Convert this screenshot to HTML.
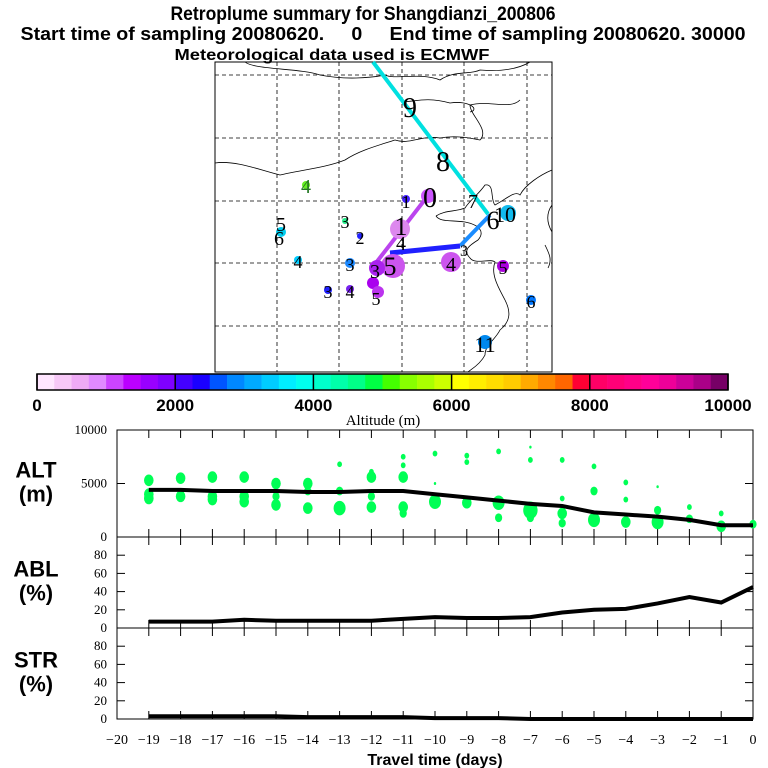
<!DOCTYPE html>
<html><head><meta charset="utf-8"><style>
body{margin:0;background:#fff}
svg{display:block}
.t{font-family:"Liberation Sans",sans-serif;font-weight:bold}
.s{font-family:"Liberation Serif",serif}
</style></head><body>
<svg id="chart" width="768" height="768" viewBox="0 0 768 768">
<rect width="768" height="768" fill="#fff"/>
<text class="t" x="363" y="20" font-size="19" text-anchor="middle" textLength="385" lengthAdjust="spacingAndGlyphs">Retroplume summary for Shangdianzi_200806</text>
<text class="t" x="383" y="40" font-size="18" text-anchor="middle" textLength="725" lengthAdjust="spacingAndGlyphs" xml:space="preserve">Start time of sampling 20080620.     0     End time of sampling 20080620. 30000</text>
<g id="map">
<rect x="215" y="62" width="337" height="310" fill="#fff" stroke="#000"/>
<g id="coast" fill="none" stroke="#000" stroke-width="0.8">
<path d="M245,62 C255,70 300,68 320,75 C345,80 370,78 385,75 C395,80 420,72 440,80 C455,70 470,75 480,70 C505,72 520,68 530,62"/>
<path d="M215,163 C235,160 260,170 280,175 C300,170 325,168 345,160 C360,150 380,145 395,140 C410,145 420,135 440,138 C455,135 470,138 480,140 C490,130 470,115 470,105 C490,100 510,110 520,100"/>
<path d="M400,100 C410,105 420,95 450,103 C470,100 480,110 470,112"/>
<path d="M436,216 C445,210 455,212 465,208 C470,200 478,195 485,185 C495,183 490,200 495,205 C505,200 515,190 520,195 C525,185 540,175 552,170"/>
<path d="M436,216 C440,222 450,220 465,222 C480,225 485,232 478,240 C470,245 462,250 470,258 C475,265 490,258 495,262 C490,275 500,290 505,300 C510,310 512,320 500,330 C495,340 485,345 485,355 C480,365 470,370 468,372"/>
<path d="M552,205 C545,215 548,225 552,232 M545,245 C550,255 552,260 548,268"/>
</g>
<g id="grid" fill="none" stroke="#000" stroke-width="0.8" stroke-dasharray="4,3"></g>
<g id="tracks">
<line x1="373" y1="62" x2="488" y2="214" stroke="#00e0e0" stroke-width="4"/>
<line x1="490" y1="215" x2="460" y2="246" stroke="#1a8cff" stroke-width="4"/>
<line x1="460" y1="246" x2="390" y2="253" stroke="#2020ff" stroke-width="5"/>
<line x1="430" y1="193" x2="372" y2="268" stroke="#bb44ee" stroke-width="4"/>
</g>
<g id="blobs">
<circle cx="400" cy="229" r="10" fill="#dd88ee"/>
<circle cx="393" cy="266" r="12" fill="#cc55ee"/>
<circle cx="377" cy="268" r="8" fill="#aa22ee"/>
<circle cx="373" cy="283" r="6" fill="#aa00ee"/>
<circle cx="378" cy="292" r="6" fill="#bb33ee"/>
<circle cx="451" cy="262" r="10" fill="#cc55ee"/>
<circle cx="503" cy="266" r="6" fill="#aa00dd"/>
<circle cx="531" cy="300" r="5" fill="#0077ff"/>
<circle cx="485" cy="342" r="7" fill="#0088ee"/>
<circle cx="508" cy="213" r="8" fill="#11bbee"/>
<circle cx="428" cy="196" r="7" fill="#cc55ff"/>
<circle cx="406" cy="199" r="4" fill="#4422ff"/>
<circle cx="350" cy="263" r="5" fill="#1a88ff"/>
<circle cx="298" cy="260" r="4" fill="#00ccff"/>
<circle cx="360" cy="236" r="3" fill="#2222ff"/>
<circle cx="345" cy="221" r="3" fill="#22ee88"/>
<circle cx="328" cy="290" r="4" fill="#2222ff"/>
<circle cx="350" cy="289" r="4" fill="#7722ee"/>
<circle cx="281" cy="232" r="5" fill="#00ccee"/>
<circle cx="306" cy="185" r="4" fill="#66ee22"/>
</g>
<g class="s" fill="#000" text-anchor="middle">
<text x="410" y="117" font-size="28">9</text>
<text x="443" y="171" font-size="28">8</text>
<text x="473" y="208" font-size="20">7</text>
<text x="430" y="207" font-size="28">0</text>
<text x="406" y="208" font-size="18">1</text>
<text x="306" y="193" font-size="20" fill="#227722">4</text>
<text x="281" y="231" font-size="20">5</text>
<text x="279" y="245" font-size="20">6</text>
<text x="345" y="228" font-size="18">3</text>
<text x="360" y="244" font-size="18">2</text>
<text x="298" y="268" font-size="18">4</text>
<text x="350" y="271" font-size="18">3</text>
<text x="328" y="298" font-size="18">3</text>
<text x="350" y="298" font-size="18">4</text>
<text x="401" y="235" font-size="26">1</text>
<text x="401" y="250" font-size="20">4</text>
<text x="390" y="275" font-size="26">5</text>
<text x="375" y="278" font-size="20">3</text>
<text x="376" y="305" font-size="18">5</text>
<text x="451" y="271" font-size="20">4</text>
<text x="503" y="274" font-size="18">5</text>
<text x="531" y="308" font-size="18">6</text>
<text x="485" y="352" font-size="22">11</text>
<text x="493" y="229" font-size="26">6</text>
<text x="505" y="222" font-size="22">10</text>
<text x="464" y="256" font-size="16">3</text>
</g>
</g>
<text class="t" x="332" y="60" font-size="16" text-anchor="middle" textLength="315" lengthAdjust="spacingAndGlyphs">Meteorological data used is ECMWF</text>
<g id="cbar"></g>
<text class="s" x="383" y="425" font-size="15" text-anchor="middle">Altitude (m)</text>
<g id="panels"></g>
<text class="t" x="435" y="765" font-size="16" text-anchor="middle">Travel time (days)</text>
</svg>
<script>
const NS="http://www.w3.org/2000/svg";
const cbColors=["#ffe6ff","#f7c8f7","#eeaaf5","#e08aff","#cc44ff","#bb00ff","#9900ff","#7f00ff","#4400ff","#1a00ff","#0055ff","#0088ff","#00aaff","#00ccff","#00eeff","#00ffee","#00ffcc","#00ffaa","#00ff88","#00ff44","#44ff00","#88ff00","#aaff00","#ccff00","#ffff00","#ffee00","#ffdd00","#ffcc00","#ffaa00","#ff8800","#ff6600","#ff0033","#ff0066","#ff0077","#ff0088","#ff0099","#ee0099","#cc0099","#aa0088","#770066"];
const cbTicks=[0,2000,4000,6000,8000,10000];
const days=[-19,-18,-17,-16,-15,-14,-13,-12,-11,-10,-9,-8,-7,-6,-5,-4,-3,-2,-1,0];
const altMean=[4400,4400,4300,4300,4300,4200,4200,4300,4300,4000,3700,3400,3100,2900,2300,2100,1900,1600,1100,1100];
const ablPct=[7,7,7,9,8,8,8,8,10,12,11,11,12,17,20,21,27,34,28,45];
const strPct=[3,3,3,3,3,2,2,2,2,1,1,1,0,0,0,0,0,0,0,0];
const altPts=[[-19,5300,4],[-19,4000,4],[-19,3600,4],[-18,5500,4],[-18,3800,4],[-17,5600,4],[-17,3800,4],[-17,3500,4],[-16,5600,4],[-16,3800,4],[-16,3300,4],[-15,5000,4],[-15,3800,3],[-15,3000,4],[-14,5000,4],[-14,4300,3],[-14,2700,4],[-13,6800,2],[-13,4300,3],[-13,2700,5],[-12,6100,2],[-12,5600,4],[-12,3800,3],[-12,2800,4],[-11,7500,2],[-11,6700,2],[-11,5600,4],[-11,2800,4],[-11,2200,3],[-10,7800,2],[-10,5000,1],[-10,3300,5],[-9,7600,2],[-9,7000,2],[-9,3200,4],[-8,8000,2],[-8,3200,5],[-8,1800,3],[-7,8400,1],[-7,7200,2],[-7,2500,6],[-7,1800,3],[-6,7200,2],[-6,3600,2],[-6,2200,4],[-6,1300,3],[-5,6600,2],[-5,4300,3],[-5,1600,5],[-4,5100,2],[-4,3500,2],[-4,1400,4],[-3,4700,1],[-3,2500,3],[-3,1400,5],[-2,2800,2],[-2,1700,3],[-1,2200,2],[-1,1000,4],[0,1200,3]];
const altTicks=[0,5000,10000];
const pctTicks=[0,20,40,60,80];
const xTicks=[-20,-19,-18,-17,-16,-15,-14,-13,-12,-11,-10,-9,-8,-7,-6,-5,-4,-3,-2,-1,0];
function mk(tag,attrs,parent){const e=document.createElementNS(NS,tag);for(const k in attrs)e.setAttribute(k,attrs[k]);parent.appendChild(e);return e;}
const grid=document.getElementById('grid');
[277,339,402,464,527].forEach(x=>mk('line',{x1:x,y1:62,x2:x,y2:372},grid));
[75,138,201,263,326].forEach(y=>mk('line',{x1:215,y1:y,x2:552,y2:y},grid));
const cb=document.getElementById('cbar');
const cbX=a=>37+a/10000*691;
cbColors.forEach((c,i)=>{const r=mk('rect',{x:cbX(i*250),y:374,width:691/40+0.3,height:16,fill:c},cb);

});
mk('rect',{x:37,y:374,width:691,height:16,fill:'none',stroke:'#000','stroke-width':1.5},cb);
cbTicks.forEach(v=>{mk('line',{x1:cbX(v),y1:374,x2:cbX(v),y2:390,stroke:'#000','stroke-width':1.5},cb);
const t=mk('text',{x:cbX(v),y:411,'font-size':17,'text-anchor':'middle','class':'t'},cb);t.textContent=v;

});
const P=document.getElementById('panels');
const L=117,R=753;
const x=d=>R+(d)*(R-L)/20;
function panel(name,y0,y1,max,ticks,tickFmt,label){
 const g=mk('g',{},P);
 
 
 mk('rect',{x:L,y:y0,width:R-L,height:y1-y0,fill:'none',stroke:'#000','stroke-width':1},g);
 const y=v=>y1-v/max*(y1-y0);
 xTicks.forEach(d=>{mk('line',{x1:x(d),y1:y0,x2:x(d),y2:y0+8,stroke:'#000'},g);mk('line',{x1:x(d),y1:y1,x2:x(d),y2:y1-8,stroke:'#000'},g);});
 ticks.forEach(v=>{mk('line',{x1:L,y1:y(v),x2:L+8,y2:y(v),stroke:'#000'},g);mk('line',{x1:R,y1:y(v),x2:R-8,y2:y(v),stroke:'#000'},g);
  const t=mk('text',{x:L-10,y:y(v)+4,'font-size':13,'text-anchor':'end','class':'s'},g);t.textContent=tickFmt(v);});
 label.forEach((s,i)=>{const t=mk('text',{x:36,y:y0+(y1-y0)/2-6+i*24,'font-size':22,'text-anchor':'middle','class':'t'},g);t.textContent=s;});
 return {g,y};
}
const alt=panel('alt-panel',430,537,10000,altTicks,v=>v,['ALT','(m)']);
altPts.forEach(p=>{const c=mk('ellipse',{cx:x(p[0]),cy:alt.y(p[1]),rx:p[2]*1.2,ry:p[2]*1.45,fill:'#00ff55'},alt.g);

});
function line(pn,vals,name){const pl=mk('polyline',{points:days.map((d,i)=>x(d)+','+pn.y(vals[i])).join(' '),fill:'none',stroke:'#000','stroke-width':4},pn.g);

}
line(alt,altMean,'mean-altitude-line');
const abl=panel('abl-panel',537,628,100,pctTicks,v=>v,['ABL','(%)']);
line(abl,ablPct,'abl-line');
const str=panel('str-panel',628,719,100,pctTicks,v=>v,['STR','(%)']);
line(str,strPct,'str-line');
xTicks.forEach(d=>{const t=mk('text',{x:x(d),y:744,'font-size':14,'text-anchor':'middle','class':'s'},P);t.textContent=d===0?'0':'\u2212'+(-d);

});
</script>
</body></html>
